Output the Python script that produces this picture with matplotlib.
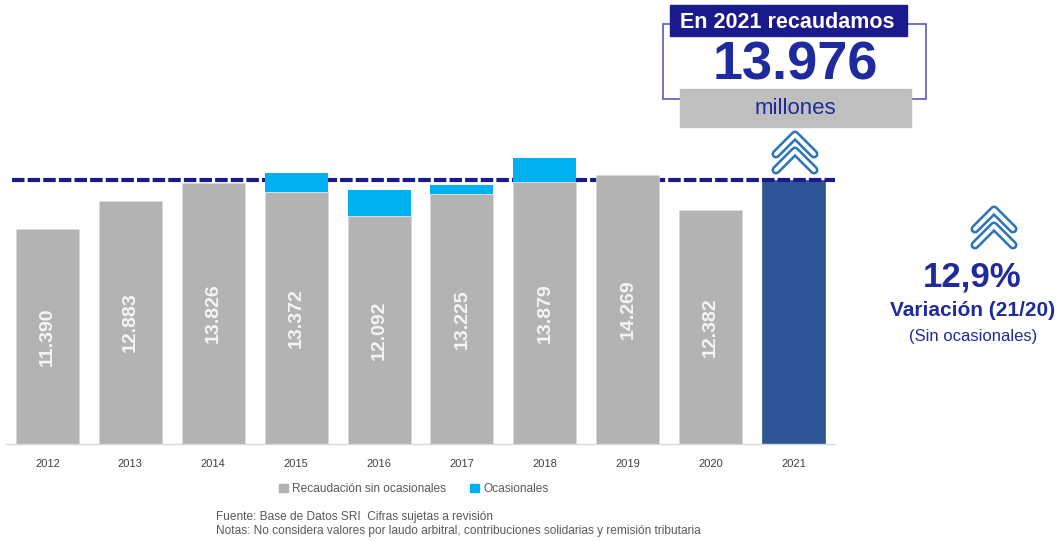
import matplotlib.pyplot as plt
from matplotlib.patches import Rectangle, Patch

plt.rcParams['font.family'] = ['Liberation Sans', 'DejaVu Sans']

years = ['2012', '2013', '2014', '2015', '2016', '2017', '2018', '2019', '2020', '2021']
sin_ocasionales = [11390, 12883, 13826, 13372, 12092, 13225, 13879, 14269, 12382, 13976]
ocasionales = [0, 0, 0, 990, 1350, 510, 1290, 0, 0, 0]
labels = ['11.390', '12.883', '13.826', '13.372', '12.092', '13.225', '13.879', '14.269', '12.382', '']
total_2021 = 13976

gray = '#b3b3b3'
cyan = '#00b0f0'
blue21 = '#2f5597'
navy = '#1a1a8c'

W, H = 1064, 541
fig = plt.figure(figsize=(W / 100, H / 100), dpi=100)

# main bar axes (pixel placement: x 6..835, y 142..444)
ax = fig.add_axes([6 / W, 1 - 444 / H, (835 - 6) / W, (444 - 142) / H])
x = range(len(years))
colors = [gray] * 9 + [blue21]
bars = ax.bar(x, sin_ocasionales, width=0.76, color=colors, edgecolor='#d9d9d9', linewidth=0.5, zorder=2)
bars[-1].set_edgecolor(blue21)
bars[-1].set_zorder(1)
ax.bar(x, ocasionales, bottom=sin_ocasionales, width=0.76, color=cyan, linewidth=0, zorder=2)
ax.axhline(total_2021, xmin=0.007, xmax=1.0, color=navy, lw=3,
           linestyle=(0, (3, 0.75)), dash_capstyle='butt', zorder=1.5)

for i, lab in enumerate(labels):
    if lab:
        ax.text(i, sin_ocasionales[i] * 0.5, lab, rotation=90, ha='center', va='center',
                color='#f5f5f5', fontsize=14, fontweight='bold', zorder=3)

ax.set_xlim(-0.5, 9.5)
ax.set_ylim(0, 16000)
ax.set_xticks(list(x))
ax.set_xticklabels(years, fontsize=8, color='#404040')
ax.tick_params(axis='x', length=0, pad=11)
ax.set_yticks([])
for s in ['top', 'left', 'right']:
    ax.spines[s].set_visible(False)
ax.spines['bottom'].set_color('#d9d9d9')
ax.spines['bottom'].set_linewidth(1)

# legend
handles = [Patch(color=gray, label='Recaudación sin ocasionales'),
           Patch(color=cyan, label='Ocasionales')]
fig.legend(handles=handles, loc='center', bbox_to_anchor=(414 / W, 1 - 489 / H), ncol=2,
           frameon=False, fontsize=8.6, handlelength=0.7, handleheight=0.7,
           handletextpad=0.4, columnspacing=2.0, labelcolor='#595959')

# overlay in pixel coordinates
ov = fig.add_axes([0, 0, 1, 1])
ov.set_xlim(0, W)
ov.set_ylim(H, 0)
ov.axis('off')

ov.add_patch(Rectangle((663, 24), 926 - 663, 99 - 24, fill=False, edgecolor='#5a5ab8', lw=1.2))
ov.add_patch(Rectangle((670, 5), 907 - 670, 36 - 5, color=navy))
ov.text(787, 22, 'En 2021 recaudamos', ha='center', va='center', color='white',
        fontsize=15.5, fontweight='bold')
ov.text(795, 66, '13.976', ha='center', va='center', color='#1f2a9c',
        fontsize=39, fontweight='bold')
ov.add_patch(Rectangle((680, 89), 911 - 680, 127 - 89, color='#bfbfbf'))
ov.text(795, 108, 'millones', ha='center', va='center', color='#1f2a9c', fontsize=16)


def chevrons(cx, top, w=19, h=19, gap=16):
    for k in range(2):
        y0 = top + k * gap
        xs = [cx - w, cx, cx + w]
        ys = [y0 + h, y0, y0 + h]
        ov.plot(xs, ys, color='#2e75b6', lw=6.5, solid_capstyle='round', solid_joinstyle='round')
        ov.plot(xs, ys, color='white', lw=2.8, solid_capstyle='round', solid_joinstyle='round')


chevrons(795, 135)
chevrons(994, 210)

ov.text(972, 277, '12,9%', ha='center', va='center', color='#1f2a9c', fontsize=25, fontweight='bold')
ov.text(973, 311, 'Variación (21/20)', ha='center', va='center', color='#1f2a9c',
        fontsize=15, fontweight='bold')
ov.text(973, 336, '(Sin ocasionales)', ha='center', va='center', color='#1f2a9c', fontsize=12)

ov.text(216, 517, 'Fuente: Base de Datos SRI  Cifras sujetas a revisión', ha='left', va='center',
        color='#595959', fontsize=8.6)
ov.text(216, 531, 'Notas: No considera valores por laudo arbitral, contribuciones solidarias y remisión tributaria',
        ha='left', va='center', color='#595959', fontsize=8.6)

fig.savefig('out.png', dpi=100)
